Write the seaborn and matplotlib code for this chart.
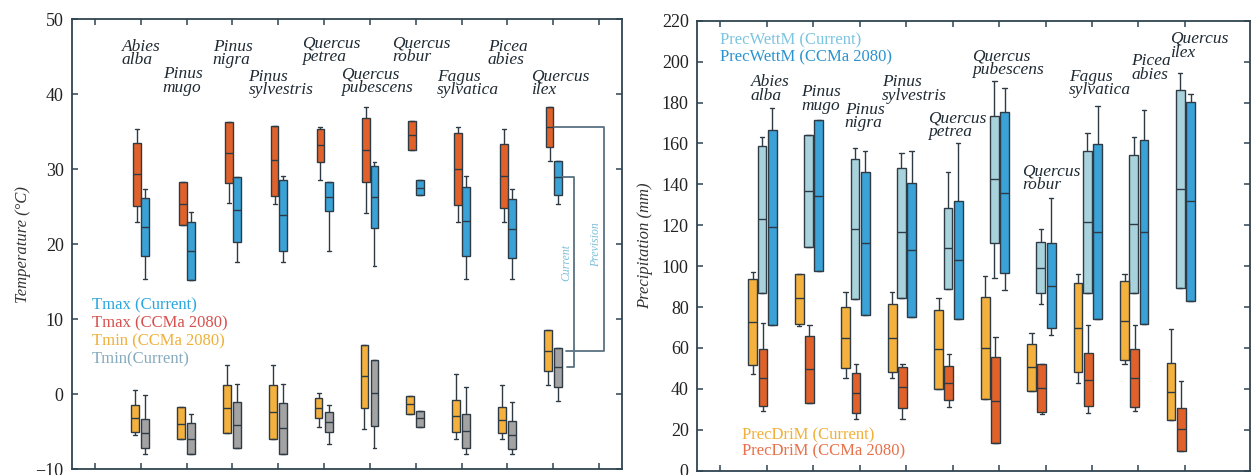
import numpy as np
import pandas as pd
import matplotlib
matplotlib.use("Agg")
import matplotlib.pyplot as plt
import seaborn as sns

# species, left to right
species = ["Abies\nalba", "Pinus\nmugo", "Pinus\nnigra", "Pinus\nsylvestris", "Quercus\npetrea",
           "Quercus\npubescens", "Quercus\nrobur", "Fagus\nsylvatica", "Picea\nabies", "Quercus\nilex"]

# box stats per species: [whisker low, q1, median, q3, whisker high]
tmax_fut = [[23.0, 25.1, 29.3, 33.5, 35.4], [22.5, 22.5, 25.3, 28.3, 28.3], [25.5, 28.2, 32.2, 36.3, 36.3],
            [25.4, 26.4, 31.2, 35.8, 35.8], [28.6, 31.0, 33.2, 35.3, 35.6], [24.1, 28.3, 32.6, 36.8, 38.3],
            [32.6, 32.6, 34.5, 36.4, 36.4], [22.9, 25.2, 30.0, 34.8, 35.6], [22.9, 24.8, 29.1, 33.4, 35.4],
            [31.1, 32.9, 35.6, 38.3, 38.3]]
tmax_cur = [[15.4, 18.4, 22.3, 26.2, 27.4], [15.2, 15.2, 19.1, 23.0, 24.3], [17.6, 20.3, 24.6, 29.0, 29.0],
            [17.6, 19.1, 23.9, 28.5, 29.1], [19.1, 24.4, 26.3, 28.3, 28.3], [17.1, 22.1, 26.3, 30.4, 31.0],
            [26.5, 26.5, 27.5, 28.5, 28.5], [15.4, 18.4, 23.1, 27.6, 29.1], [15.4, 18.1, 22.0, 26.0, 27.4],
            [25.3, 26.6, 28.9, 31.1, 31.1]]
tmin_fut = [[-5.5, -5.0, -3.2, -1.4, 0.5], [-6.0, -6.0, -4.0, -1.7, -1.7], [-5.2, -5.2, -1.9, 1.2, 3.9],
            [-6.0, -6.0, -2.4, 1.2, 3.9], [-4.4, -3.2, -1.8, -0.5, 0.2], [-4.7, -1.8, 2.4, 6.5, 6.5],
            [-2.6, -2.6, -1.3, -0.3, -0.3], [-6.0, -5.0, -2.9, -0.8, 2.7], [-6.0, -5.2, -3.4, -1.7, 1.2],
            [1.2, 3.1, 5.8, 8.5, 8.5]]
tmin_cur = [[-8.0, -7.2, -5.2, -3.3, -0.1], [-8.0, -8.0, -6.0, -3.8, -2.7], [-7.2, -7.2, -4.1, -1.1, 1.4],
            [-8.0, -8.0, -4.5, -1.2, 1.4], [-6.6, -5.1, -3.7, -2.4, -1.5], [-7.2, -4.2, 0.1, 4.5, 4.5],
            [-4.4, -4.4, -3.2, -2.2, -2.2], [-8.0, -7.2, -4.9, -2.7, 0.9], [-8.0, -7.3, -5.5, -3.6, -1.0],
            [-0.9, 0.9, 3.6, 6.2, 6.2]]

wet_cur = [[86.7, 86.7, 122.9, 158.7, 163.3], [109.2, 109.2, 136.7, 164.1, 164.1], [83.8, 83.8, 118.1, 152.2, 157.6],
           [84.5, 84.5, 116.5, 148.1, 155.2], [88.7, 88.7, 108.7, 128.3, 146.2], [94.0, 111.4, 142.6, 173.4, 190.5],
           [81.3, 86.7, 98.9, 111.6, 118.0], [86.7, 86.7, 121.7, 156.3, 165.2], [87.0, 87.0, 120.6, 154.3, 163.3],
           [89.1, 89.1, 137.6, 186.1, 194.3]]
wet_fut = [[71.2, 71.2, 119.0, 166.6, 177.5], [97.8, 97.8, 134.4, 171.4, 171.4], [76.1, 76.1, 111.2, 145.9, 156.4],
           [75.0, 75.0, 107.9, 140.5, 156.4], [74.1, 74.1, 103.0, 131.8, 160.3], [88.3, 96.5, 135.9, 175.2, 187.2],
           [66.3, 69.6, 90.3, 111.2, 133.2], [74.0, 74.0, 116.8, 159.6, 178.3], [71.5, 71.5, 116.5, 161.7, 176.3],
           [83.1, 83.1, 131.8, 180.4, 184.2]]
dry_cur = [[47.1, 51.6, 72.8, 93.7, 97.3], [70.9, 71.5, 84.3, 96.1, 96.1], [45.1, 50.2, 65.0, 79.9, 87.2],
           [45.1, 48.1, 64.7, 81.5, 87.2], [39.8, 39.8, 59.3, 78.5, 84.3], [35.0, 35.0, 60.1, 85.0, 95.2],
           [39.1, 39.1, 50.8, 61.9, 67.1], [43.0, 48.1, 69.9, 91.6, 96.1], [52.0, 54.1, 73.3, 92.7, 96.1],
           [24.7, 24.7, 38.6, 52.8, 69.1]]
dry_fut = [[29.1, 31.5, 45.4, 59.5, 72.0], [33.2, 33.2, 49.6, 65.8, 71.2], [25.2, 28.0, 37.8, 47.9, 52.0],
           [25.2, 30.7, 40.7, 50.8, 52.0], [31.2, 34.5, 42.7, 51.3, 57.0], [13.3, 13.3, 34.0, 55.4, 65.2],
           [27.5, 28.5, 40.2, 52.1, 52.1], [28.3, 31.5, 44.5, 57.3, 71.2], [29.1, 31.2, 45.4, 59.5, 71.2],
           [9.6, 9.6, 20.2, 30.7, 44.0]]

# label placement (layout only)
left_lab_dx = [-0.41, -0.52, -0.43, -0.65, -0.48, -0.63, -0.52, -0.54, -0.43, -0.48]
left_lab_y = [47.4, 43.7, 47.4, 43.4, 47.8, 43.7, 47.8, 43.4, 47.4, 43.4]
right_lab_dx = [-0.34, -0.26, -0.32, -0.52, -0.52, -0.58, -0.50, -0.50, -0.15, -0.32]
right_lab_y = [194, 189, 180.5, 194, 176, 206.5, 150, 196.5, 204, 215]

EDGE = "#2e3a44"
SPINE = "#2f4452"
RED = "#e0622a"
BLUE = "#3aa2d6"
ORANGE = "#f4b13e"
GRAY = "#a3a3a3"
LIGHTBLUE = "#a9d3dc"

sns.set_theme(style="ticks")
plt.rcParams["font.family"] = ["Liberation Serif", "DejaVu Serif"]


def to_long(stats, offset):
    rows = []
    for i, s in enumerate(stats):
        for v in s:
            rows.append({"pos": i + offset, "value": v})
    return pd.DataFrame(rows)


def draw_boxes(ax, stats, offset, color, width):
    df = to_long(stats, offset)
    sns.boxplot(data=df, x="pos", y="value", native_scale=True, orient="x", width=width,
                whis=(0, 100), showfliers=False, color=color, saturation=1,
                linecolor=EDGE, linewidth=1.0, ax=ax)


def style_axis(ax):
    for sp in ax.spines.values():
        sp.set_color(SPINE)
        sp.set_linewidth(1.3)
    ax.tick_params(direction="in", top=True, right=True, length=4, width=1.1,
                   color=SPINE, labelsize=13, labelcolor="#222222", pad=6)
    ax.set_xticklabels([])
    ax.set_xlabel("")


fig = plt.figure(figsize=(12.52, 4.75), dpi=100)
ax1 = fig.add_axes([0.0575, 0.0126, 0.4393, 0.947])
ax2 = fig.add_axes([0.5567, 0.0093, 0.4417, 0.947])

# left: temperature
draw_boxes(ax1, tmax_fut, -0.08, RED, 0.17)
draw_boxes(ax1, tmax_cur, 0.10, BLUE, 0.17)
draw_boxes(ax1, tmin_fut, -0.12, ORANGE, 0.17)
draw_boxes(ax1, tmin_cur, 0.10, GRAY, 0.17)
ax1.set_xlim(-1.5, 10.5)
ax1.set_ylim(-10, 50)
ax1.set_xticks(np.arange(-1, 11))
ax1.set_yticks(np.arange(-10, 51, 10))
style_axis(ax1)
ax1.set_ylabel("Temperature (°C)", fontsize=12, style="italic", color="#333333", labelpad=3)

for i, name in enumerate(species):
    ax1.text(i + left_lab_dx[i], left_lab_y[i], name, ha="left", va="top", fontsize=12.5,
             style="italic", color="#1f2a33", linespacing=0.8)

leg1 = [("Tmax (Current)", "#2aa7df"), ("Tmax (CCMa 2080)", "#d6514e"),
        ("Tmin (CCMa 2080)", "#f0b03a"), ("Tmin(Current)", "#86abbd")]
for k, (t, c) in enumerate(leg1):
    ax1.text(0.036, 0.364 - 0.04 * k, t, transform=ax1.transAxes, color=c, fontsize=12, va="center")

# current / prevision brackets for Quercus ilex
j = len(species) - 1
br = "#5a7282"
ax1.plot([j + 0.02, j + 1.11, j + 1.11, j + 0.28],
         [tmax_fut[j][2], tmax_fut[j][2], tmin_fut[j][2], tmin_fut[j][2]], color=br, lw=1.3)
ax1.plot([j + 0.20, j + 0.46, j + 0.46, j + 0.30],
         [tmax_cur[j][2], tmax_cur[j][2], tmin_cur[j][2], tmin_cur[j][2]], color=br, lw=1.3)
ax1.text(j + 0.28, 17.5, "Current", rotation=90, ha="center", va="center", fontsize=8.5,
         style="italic", color="#7dbfda")
ax1.text(j + 0.93, 19.9, "Prevision", rotation=90, ha="center", va="center", fontsize=8.5,
         style="italic", color="#7dbfda")

# right: precipitation
draw_boxes(ax2, wet_cur, -0.10, LIGHTBLUE, 0.19)
draw_boxes(ax2, wet_fut, 0.12, BLUE, 0.19)
draw_boxes(ax2, dry_cur, -0.30, ORANGE, 0.19)
draw_boxes(ax2, dry_fut, -0.08, RED, 0.19)
ax2.set_xlim(-1.5, 10.4)
ax2.set_ylim(0, 220)
ax2.set_xticks(np.arange(-1, 10))
ax2.set_yticks(np.arange(0, 221, 20))
style_axis(ax2)
ax2.set_ylabel("Precipitation (mm)", fontsize=12, style="italic", color="#333333", labelpad=6)

for i, name in enumerate(species):
    ax2.text(i + right_lab_dx[i], right_lab_y[i], name, ha="left", va="top", fontsize=12.5,
             style="italic", color="#1f2a33", linespacing=0.8)

ax2.text(0.042, 0.956, "PrecWettM (Current)", transform=ax2.transAxes, color="#7cc4e0",
         fontsize=12, va="center")
ax2.text(0.042, 0.919, "PrecWettM (CCMa 2080)", transform=ax2.transAxes, color="#2a93cf",
         fontsize=12, va="center")
ax2.text(0.081, 0.079, "PrecDriM (Current)", transform=ax2.transAxes, color="#f0b03a",
         fontsize=12, va="center")
ax2.text(0.081, 0.042, "PrecDriM (CCMa 2080)", transform=ax2.transAxes, color="#e8704a",
         fontsize=12, va="center")

fig.savefig("out.png", dpi=100)
